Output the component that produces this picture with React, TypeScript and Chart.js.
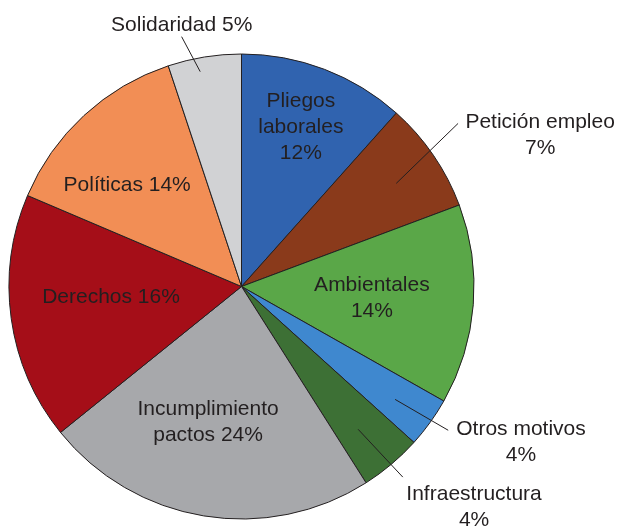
import React, { useEffect, useRef } from "react";
import { Chart, registerables } from "chart.js";

Chart.register(...registerables);

const categories = [
  "Pliegos laborales",
  "Petición empleo",
  "Ambientales",
  "Otros motivos",
  "Infraestructura",
  "Incumplimiento pactos",
  "Derechos",
  "Políticas",
  "Solidaridad",
];
const values = [11.6, 7.7, 13.9, 3.5, 4.3, 23.2, 17.2, 13.5, 5.1];
const percentLabels = ["12%", "7%", "14%", "4%", "4%", "24%", "16%", "14%", "5%"];
const labelLines = [
  ["Pliegos", "laborales", "12%"],
  ["Petición empleo", "7%"],
  ["Ambientales", "14%"],
  ["Otros motivos", "4%"],
  ["Infraestructura", "4%"],
  ["Incumplimiento", "pactos 24%"],
  ["Derechos 16%"],
  ["Políticas 14%"],
  ["Solidaridad 5%"],
];
const colors = [
  "#3063AF",
  "#8A3A1B",
  "#5AA748",
  "#3F88CF",
  "#3D7035",
  "#A7A8AB",
  "#A50E18",
  "#F28E55",
  "#D1D2D4",
];

// label placement: angle offset (deg) from slice mid-angle, radius fraction
type Placement = {
  text: [number, number];
  line?: [[number, number], [number, number]];
};
const placements: Placement[] = [
  { text: [-0.5, 0.733] },
  { text: [7.5, 1.44], line: [[0.7, 0.8], [-2.6, 1.166]] },
  { text: [0.5, 0.563] },
  { text: [-6.7, 1.376], line: [[0.5, 0.82], [-1.0, 1.083]] },
  { text: [-6.4, 1.378], line: [[0.9, 0.793], [-0.1, 1.074]] },
  { text: [4.5, 0.6] },
  { text: [3.4, 0.563] },
  { text: [-5.7, 0.658] },
  { text: [-3.7, 1.154], line: [[-1.7, 0.941], [-4.3, 1.105]] },
];

const TEXT_COLOR = "#231F20";
const FONT = '21px "Liberation Sans", Arial, sans-serif';
const LINE_HEIGHT = 26;

const labelPlugin = {
  id: "pieLabels",
  afterDatasetsDraw(chart: any) {
    const ctx = chart.ctx;
    const meta = chart.getDatasetMeta(0);
    ctx.save();
    ctx.fillStyle = TEXT_COLOR;
    ctx.strokeStyle = TEXT_COLOR;
    ctx.lineWidth = 1;
    ctx.font = FONT;
    ctx.textAlign = "center";
    ctx.textBaseline = "middle";
    meta.data.forEach((arc: any, i: number) => {
      const { x, y, startAngle, endAngle, outerRadius } = arc.getProps(
        ["x", "y", "startAngle", "endAngle", "outerRadius"],
        true
      );
      const mid = (startAngle + endAngle) / 2;
      const pt = (p: [number, number]) => {
        const a = mid + (p[0] * Math.PI) / 180;
        return [x + Math.cos(a) * p[1] * outerRadius, y + Math.sin(a) * p[1] * outerRadius];
      };
      const pl = placements[i];
      if (pl.line) {
        const a = pt(pl.line[0]);
        const b = pt(pl.line[1]);
        ctx.beginPath();
        ctx.moveTo(a[0], a[1]);
        ctx.lineTo(b[0], b[1]);
        ctx.stroke();
      }
      const [tx, ty] = pt(pl.text);
      const lines = labelLines[i];
      lines.forEach((ln, k) => {
        ctx.fillText(ln, tx, ty + (k - (lines.length - 1) / 2) * LINE_HEIGHT);
      });
    });
    ctx.restore();
  },
};

export default function App() {
  const ref = useRef<HTMLCanvasElement>(null);
  useEffect(() => {
    if (!ref.current) return;
    const chart = new Chart(ref.current, {
      type: "pie",
      data: {
        labels: categories.map((c, i) => `${c} ${percentLabels[i]}`),
        datasets: [
          {
            data: values,
            backgroundColor: colors,
            borderColor: "#231F20",
            borderWidth: 1,
          },
        ],
      },
      options: {
        responsive: false,
        animation: false,
        layout: { padding: { left: 8.5, right: 143.5, top: 53.5, bottom: 8.5 } },
        plugins: {
          legend: { display: false },
          tooltip: { enabled: false },
        },
      },
      plugins: [labelPlugin],
    });
    return () => chart.destroy();
  }, []);
  return (
    <div style={{ position: "absolute", left: 0, top: 0, width: 618, height: 528, background: "#fff" }}>
      <canvas ref={ref} width={618} height={528} />
    </div>
  );
}
